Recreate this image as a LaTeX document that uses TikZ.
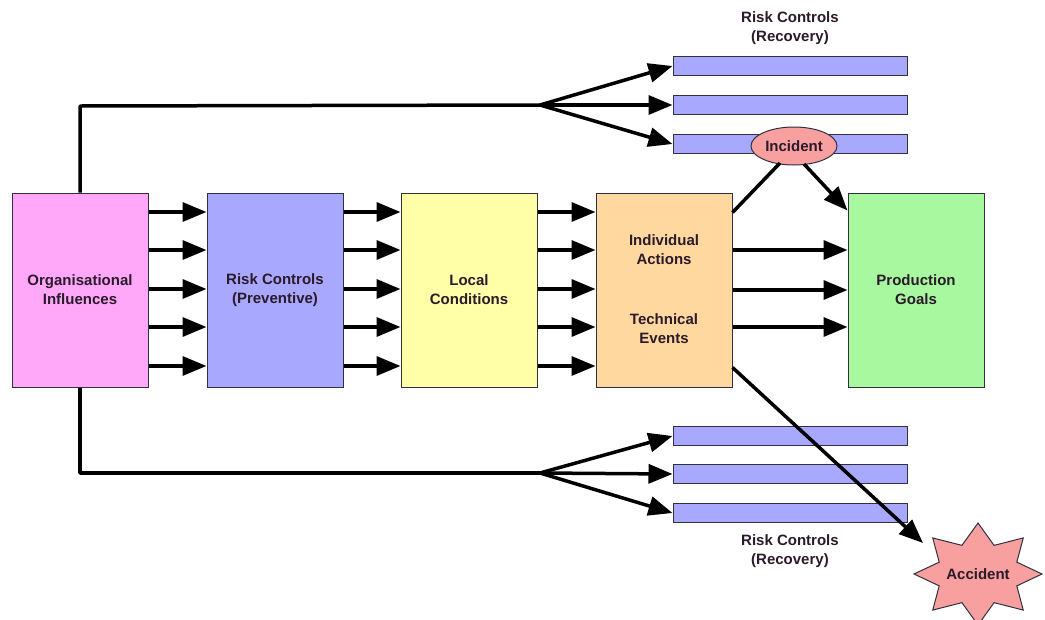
\documentclass[tikz,border=0pt]{standalone}
\usepackage{fontspec}
\setmainfont{Liberation Sans}
\usetikzlibrary{arrows.meta,shapes.geometric,calc}
\definecolor{pinkf}{HTML}{FFA8FA}
\definecolor{bluef}{HTML}{A8A8FF}
\definecolor{yellowf}{HTML}{FFFFA8}
\definecolor{peachf}{HTML}{FFD8A0}
\definecolor{greenf}{HTML}{A8F8A0}
\definecolor{redf}{HTML}{F8A0A0}
\definecolor{txt}{HTML}{2A1A2A}
\definecolor{edge}{HTML}{303040}
\begin{document}
\begin{tikzpicture}[x=1pt,y=-1pt,
  every node/.style={font=\fontsize{15}{19}\selectfont\bfseries, text=txt, align=center},
  bigbox/.style={draw=edge, line width=1pt, minimum width=136pt, minimum height=194pt, inner sep=0pt},
  bar/.style={draw=edge, line width=1pt, fill=bluef, minimum width=234pt, minimum height=19pt, inner sep=0pt},
  conn/.style={line width=3.5pt, draw=black},
  arr/.style={conn, -{Triangle[length=24pt,width=19pt]}},
]
\useasboundingbox (0,0) rectangle (1045,619);

% main boxes
\node[bigbox, fill=pinkf] (org) at (80,290) {Organisational\\Influences};
\node[bigbox, fill=bluef] (rcp) at (275,290) {Risk Controls\\(Preventive)};
\node[bigbox, fill=yellowf] (loc) at (469,290) {Local\\Conditions};
\node[bigbox, fill=peachf] (ind) at (664,290) {};
\node[bigbox, fill=greenf] (prod) at (916,290) {Production\\Goals};
\node (ia) at (664,250) {Individual\\Actions};
\node (te) at (664,329) {Technical\\Events};

% recovery bars top
\node[bar] (t1) at (790,66) {};
\node[bar] (t2) at (790,105) {};
\node[bar] (t3) at (790,144) {};
% recovery bars bottom
\node[bar] (b1) at (790,436) {};
\node[bar] (b2) at (790,474) {};
\node[bar] (b3) at (790,513) {};

\node (tl) at (790,28) {Risk Controls\\(Recovery)};
\node (bl) at (790,551) {Risk Controls\\(Recovery)};

% incident
\node[ellipse, draw=edge, line width=1pt, fill=redf, minimum width=86pt, minimum height=38pt, inner sep=0pt] (inc) at (794,146) {Incident};

% accident star (explicit 8-point polygon)
\coordinate (accc) at (978,574);
\begin{scope}[shift={(accc)}]
\filldraw[draw=edge, line width=1pt, fill=redf]
  (0,-51)
  \foreach \a/\rx/\ry in {112.5/42/31,135/64/51,157.5/42/31,180/64/51,202.5/42/31,225/64/51,247.5/42/31,270/64/51,292.5/42/31,315/64/51,337.5/42/31,0/64/51,22.5/42/31,45/64/51,67.5/42/31}{
    -- ({\rx*cos(\a)},{-\ry*sin(\a)})
  } -- cycle;
\end{scope}
\node (acc) at (accc) {Accident};

% horizontal arrows between boxes
\foreach \y in {212,250,289,327,366}{
  \draw[arr] (org.east |- 0,\y) -- (rcp.west |- 0,\y);
  \draw[arr] (rcp.east |- 0,\y) -- (loc.west |- 0,\y);
  \draw[arr] (loc.east |- 0,\y) -- (ind.west |- 0,\y);
}
\foreach \y in {250,290,327}{
  \draw[arr] (ind.east |- 0,\y) -- (prod.west |- 0,\y);
}

% top branch
\coordinate (tbr) at (540,105);
\draw[conn, line join=round] (org.north) -- (80,106) -- (tbr);
\draw[arr] (tbr) -- (t1.west);
\draw[arr] (tbr) -- (t2.west);
\draw[arr] (tbr) -- (t3.west);

% bottom branch
\coordinate (bbr) at (540,473);
\draw[conn, line join=round] (org.south) -- (80,473) -- (bbr);
\draw[arr] (bbr) -- (b1.west);
\draw[arr] (bbr) -- (b2.west);
\draw[arr] (bbr) -- (b3.west);

% incident links
\draw[conn] ([yshift=-20pt]ind.north east) -- (780,163);
\draw[arr] (804,164) -- ([yshift=-18pt]prod.north west);

% accident link
\draw[arr] ([yshift=20pt]ind.south east) -- (923,543);
\end{tikzpicture}
\end{document}
